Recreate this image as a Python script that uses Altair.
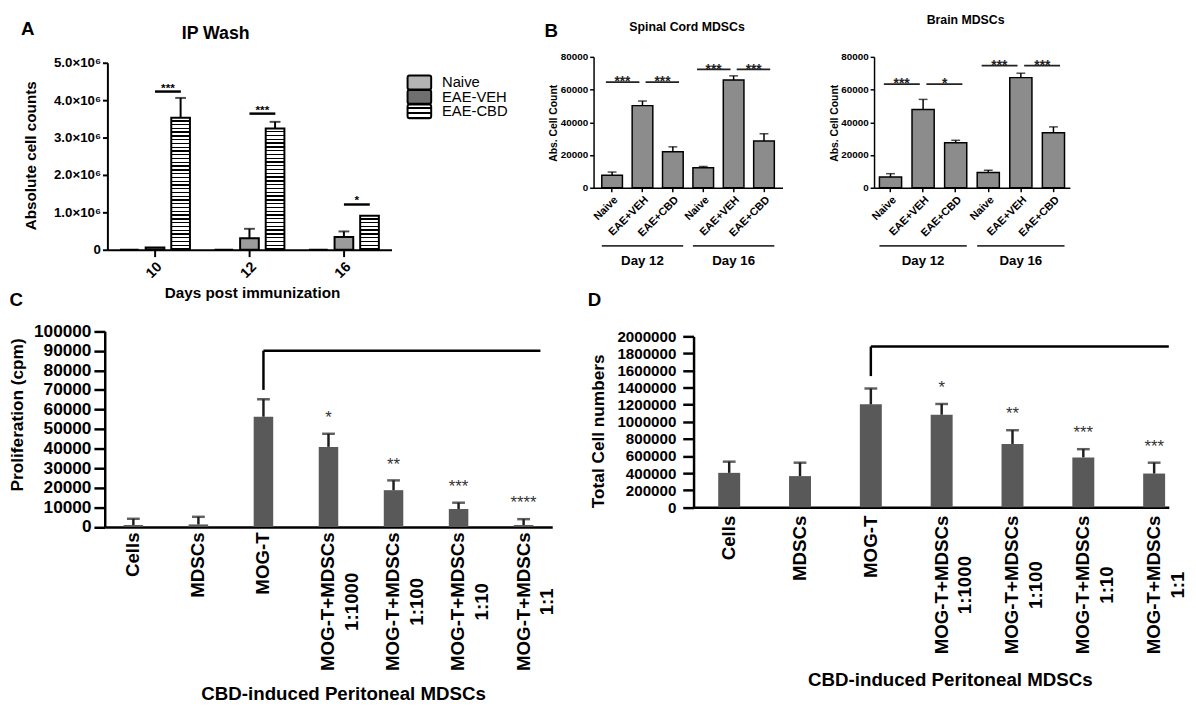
import altair as alt
import pandas as pd

FONT = "Liberation Sans"

# ---------------- Panel A : IP Wash ----------------
a_days = ["10", "12", "16"]
a_series = ["Naive", "EAE-VEH", "EAE-CBD"]
a_naive_mean = [0, 0, 0]
a_naive_err = [0, 0, 0]
a_veh_mean = [60000, 310000, 340000]
a_veh_err = [0, 250000, 150000]
a_cbd_mean = [3530000, 3240000, 910000]
a_cbd_err = [530000, 180000, 0]
a_sig_level = [4230000, 3640000, 1210000]
a_sig_text = ["***", "***", "*"]
a_yticks = [0, 1000000, 2000000, 3000000, 4000000, 5000000]

# ---------------- Panel B : Spinal cord / Brain MDSCs ----------------
b_days = ["Day 12", "Day 16"]
b_groups = ["Naive", "EAE+VEH", "EAE+CBD"]
b_sc_mean = [7600, 50200, 22000, 12200, 65800, 28600]
b_sc_err = [2000, 2800, 3000, 800, 2600, 4400]
b_sc_sig_level = [64600, 72400]
b_sc_sig_left = ["***", "***"]
b_sc_sig_right = ["***", "***"]
b_br_mean = [6600, 47800, 27500, 9300, 67300, 33600]
b_br_err = [2000, 6200, 1500, 1400, 2700, 3600]
b_br_sig_level = [63400, 74600]
b_br_sig_left = ["***", "***"]
b_br_sig_right = ["*", "***"]
b_yticks = [0, 20000, 40000, 60000, 80000]

# ---------------- Panels C / D ----------------
cd_cats = ["Cells", "MDSCs", "MOG-T", "MOG-T+MDSCs 1:1000", "MOG-T+MDSCs 1:100",
           "MOG-T+MDSCs 1:10", "MOG-T+MDSCs 1:1"]
c_mean = [1000, 1300, 56300, 40900, 18800, 9200, 1000]
c_err = [3200, 3900, 8900, 6700, 5000, 3200, 3000]
c_stars = ["", "", "", "*", "**", "***", "****"]
c_bracket = [90000, 70000]
c_yticks = list(range(0, 100001, 10000))
d_mean = [403000, 365000, 1205000, 1083000, 741000, 584000, 395000]
d_err = [131000, 157000, 185000, 126000, 161000, 96000, 127000]
d_stars = ["", "", "", "*", "**", "***", "***"]
d_bracket = [1881000, 1535000]
d_yticks = list(range(0, 2000001, 200000))
bracket_ref = "MOG-T"
cd_xtitle = "CBD-induced Peritoneal MDSCs"

# ---------------- layout (pixels of the single drawing area) ----------------
W, H = 1180, 700
OX, OY_TOP, OY_BOT = 2, 4, 16


def vx(r):
    return r - OX


def vyt(r):
    return r - OY_TOP


def vyb(r):
    return r - OY_BOT


def stripes(n, black=0.36):
    stops = []
    for k in range(n):
        a, b, c = k / n, (k + 1 - black) / n, (k + 1) / n
        stops += [{"offset": round(a, 5), "color": "white"},
                  {"offset": round(b, 5), "color": "white"},
                  {"offset": round(b, 5), "color": "black"},
                  {"offset": round(c, 5), "color": "black"}]
    return {"gradient": "linear", "x1": 0, "y1": 0, "x2": 0, "y2": 1, "stops": stops}


def note(txt, x, y, size, weight="bold", align="center"):
    return alt.Chart(pd.DataFrame({"t": [txt]})).mark_text(
        fontSize=size, fontWeight=weight, align=align, baseline="middle", color="black"
    ).encode(text="t:N", x=alt.value(x), y=alt.value(y))


# ================= Panel A =================
rows = []
for i, d in enumerate(a_days):
    for s, m, e in zip(a_series, [a_naive_mean, a_veh_mean, a_cbd_mean],
                       [a_naive_err, a_veh_err, a_cbd_err]):
        rows.append({"day": d, "series": s, "mean": m[i], "err": e[i]})
df_a = pd.DataFrame(rows)
df_asig = pd.DataFrame({"day": a_days, "level": a_sig_level, "txt": a_sig_text})
df_leg = pd.DataFrame({"series": a_series})

A_X0, A_X1, A_Y0, A_Y1 = 103, 391.7, 244, 54
xa = alt.Scale(domain=a_days, range=[vx(A_X0), vx(A_X1)], paddingInner=0.26,
               paddingOuter=0.134)
xoa = alt.Scale(domain=a_series, paddingInner=0.27, paddingOuter=0)
ya = alt.Scale(domain=[0, 5000000], range=[vyt(A_Y0), vyt(A_Y1)], nice=False)

a_fill = alt.FillValue("#b4b4b4", condition=[
    {"test": "datum.series === 'EAE-CBD' && datum.day === '10'", "value": stripes(35)},
    {"test": "datum.series === 'EAE-CBD' && datum.day === '12'", "value": stripes(32)},
    {"test": "datum.series === 'EAE-CBD'", "value": stripes(9)},
    {"test": "datum.series === 'EAE-VEH'", "value": "#9c9c9c"},
])
leg_fill = alt.FillValue("#b4b4b4", condition=[
    {"test": "datum.series === 'EAE-CBD'", "value": stripes(3)},
    {"test": "datum.series === 'EAE-VEH'", "value": "#6f6f6f"},
])

ax_a_x = alt.Axis(orient="bottom", offset=vyt(A_Y0) - H, title="Days post immunization",
                  labelAngle=315, labelFontSize=14.5, labelFontWeight="bold", labelPadding=3,
                  tickSize=7, tickWidth=2, domainWidth=2, titleFontSize=15.5,
                  titleFontWeight="bold", titleY=44, titleX=vx(250), titleBaseline="middle")
ax_a_y = alt.Axis(orient="left", offset=-vx(A_X0), values=a_yticks, title="Absolute cell counts",
                  labelExpr="datum.value == 0 ? '0' : format(datum.value / 1000000, '.1f') + '×10⁶'",
                  labelFontSize=13.5, labelFontWeight="bold", tickSize=5, tickWidth=2,
                  domainWidth=2, labelPadding=2, titleFontSize=15.5, titleFontWeight="bold",
                  titleX=25 - A_X0, titleY=vyt(148), titleBaseline="middle")


def axx(f, bp=None):
    if bp is None:
        return alt.X(f, scale=xa, axis=ax_a_x)
    return alt.X(f, scale=xa, axis=ax_a_x, bandPosition=bp)


def ayy(f):
    return alt.Y(f, scale=ya, axis=ax_a_y)


XO = alt.XOffset("series:N", scale=xoa)
a_bars = alt.Chart(df_a).mark_bar(stroke="black", strokeWidth=2).encode(
    x=axx("day:N"), xOffset=XO, y=ayy("mean:Q"), fill=a_fill)
a_errbase = alt.Chart(df_a).transform_filter("datum.err > 0").transform_calculate(
    top="datum.mean + datum.err")
a_err_rule = a_errbase.mark_rule(color="black", strokeWidth=2).encode(
    x=axx("day:N"), xOffset=XO, y=ayy("mean:Q"), y2=alt.Y2(field="top"))
a_err_cap = a_errbase.mark_tick(color="black", thickness=2, size=11, orient="horizontal").encode(
    x=axx("day:N"), xOffset=XO, y=ayy("top:Q"))
a_sig_rule = alt.Chart(df_asig).mark_rule(color="black", strokeWidth=2.5).encode(
    x=axx("day:N", 0.5), x2=alt.X2(field="day", bandPosition=0.87), y=ayy("level:Q"))
a_sig_txt = alt.Chart(df_asig).mark_text(fontSize=12, fontWeight="bold", baseline="alphabetic",
                                         dy=0, color="black").encode(
    x=axx("day:N", 0.685), y=ayy("level:Q"), text="txt:N")
main_a = alt.layer(a_bars, a_err_rule, a_err_cap, a_sig_rule, a_sig_txt,
                   note("A", vx(22), vyt(20), 19), note("IP Wash", vx(213), vyt(25), 18))

leg_y = alt.Y("series:N", scale=alt.Scale(type="point", domain=a_series,
                                          range=[vyt(66.7), vyt(110.7)]), axis=None)
leg_sym = alt.Chart(df_leg).mark_bar(height=14, stroke="black", strokeWidth=2, cornerRadius=2).encode(
    x=alt.value(vx(408)), x2=alt.value(vx(432)), y=leg_y, fill=leg_fill)
leg_txt = alt.Chart(df_leg).mark_text(align="left", baseline="middle", fontSize=15,
                                      color="black").encode(
    x=alt.value(vx(443)), y=leg_y, text="series:N")

pA = alt.layer(main_a, leg_sym, leg_txt).resolve_scale(y="independent")


# ================= Panel B =================
def make_b(title, title_xy, mean, err, lvl, left, right, x_lo, x_hi, po, let=None):
    keys = [f"{d}|{g}" for d in b_days for g in b_groups]
    df = pd.DataFrame({"key": keys, "mean": mean, "err": err})
    sig_rows = []
    for i, d in enumerate(b_days):
        sig_rows.append({"side": "L", "from": f"{d}|{b_groups[0]}", "to": f"{d}|{b_groups[1]}",
                         "level": lvl[i], "txt": left[i]})
        sig_rows.append({"side": "R", "from": f"{d}|{b_groups[1]}", "to": f"{d}|{b_groups[2]}",
                         "level": lvl[i], "txt": right[i]})
    dsig = pd.DataFrame(sig_rows)
    dgrp = pd.DataFrame({"day": b_days,
                         "first": [f"{d}|{b_groups[0]}" for d in b_days],
                         "mid": [f"{d}|{b_groups[1]}" for d in b_days],
                         "last": [f"{d}|{b_groups[2]}" for d in b_days]})
    xs = alt.Scale(domain=keys, range=[vx(x_lo), vx(x_hi)], paddingInner=0.32, paddingOuter=po)
    ys = alt.Scale(domain=[0, 80000], range=[vyt(181), vyt(48)], nice=False)
    ax_x = alt.Axis(orient="bottom", offset=vyt(181) - H, title=None,
                    labelExpr="split(datum.label, '|')[1]", labelAngle=315,
                    labelFontSize=11, labelFontWeight="bold", tickSize=4, tickWidth=1.5,
                    domainWidth=1.5, labelPadding=2)
    ax_y = alt.Axis(orient="left", offset=-vx(x_lo), values=b_yticks, format="d",
                    title="Abs. Cell Count", labelFontSize=10,
                    labelFontWeight="bold", tickSize=4, tickWidth=1.5, domainWidth=1.5,
                    labelPadding=2, titleFontSize=10.5, titleFontWeight="bold",
                    titleX=-40.5, titleY=vyt(115), titleBaseline="middle")

    def bx(f, bp=None):
        if bp is None:
            return alt.X(f, scale=xs, axis=ax_x)
        return alt.X(f, scale=xs, axis=ax_x, bandPosition=bp)

    def by(f):
        return alt.Y(f, scale=ys, axis=ax_y)

    bars = alt.Chart(df).mark_bar(fill="#8c8c8c", stroke="black", strokeWidth=1.5).encode(
        x=bx("key:N"), y=by("mean:Q"))
    eb = alt.Chart(df).transform_calculate(top="datum.mean + datum.err")
    erule = eb.mark_rule(color="black", strokeWidth=1.5).encode(
        x=bx("key:N"), y=by("mean:Q"), y2=alt.Y2(field="top"))
    ecap = eb.mark_tick(color="black", thickness=1.5, size=9, orient="horizontal").encode(
        x=bx("key:N"), y=by("top:Q"))
    sl = alt.Chart(dsig).transform_filter("datum.side === 'L'")
    sr = alt.Chart(dsig).transform_filter("datum.side === 'R'")
    sig_l = sl.mark_rule(color="#222", strokeWidth=1.8).encode(
        x=bx("from:N", 0.2), x2=alt.X2(field="to", bandPosition=0.35), y=by("level:Q"))
    sig_r = sr.mark_rule(color="#222", strokeWidth=1.8).encode(
        x=bx("from:N", 0.65), x2=alt.X2(field="to", bandPosition=0.8), y=by("level:Q"))
    st_kw = dict(fontSize=14, fontWeight="bold", baseline="alphabetic", dy=4.5, color="#222")
    txt_l = sl.mark_text(**st_kw).encode(x=bx("from:N", 1.0), y=by("level:Q"), text="txt:N")
    txt_r = sr.mark_text(**st_kw).encode(x=bx("to:N", 0.0), y=by("level:Q"), text="txt:N")
    gline = alt.Chart(dgrp).mark_rule(color="#333", strokeWidth=1.8).encode(
        x=bx("first:N", 0), x2=alt.X2(field="last", bandPosition=1), y=alt.value(vyt(240)))
    gtxt = alt.Chart(dgrp).mark_text(fontSize=13.5, fontWeight="bold", baseline="middle",
                                     color="black").encode(
        x=bx("mid:N"), y=alt.value(vyt(256)), text="day:N")
    layers = [bars, erule, ecap, sig_l, sig_r, txt_l, txt_r, gline, gtxt,
              note(title, vx(title_xy[0]), vyt(title_xy[1]), 12.5)]
    if let:
        layers.append(note(let, vx(554), vyt(22), 19))
    return alt.layer(*layers)


pBsc = make_b("Spinal Cord MDSCs", (692, 17.3), b_sc_mean, b_sc_err, b_sc_sig_level,
              b_sc_sig_left, b_sc_sig_right, 597, 789, 0.27, "B")
pBbr = make_b("Brain MDSCs", (975, 10.5), b_br_mean, b_br_err, b_br_sig_level,
              b_br_sig_left, b_br_sig_right, 882, 1081, 0.165)


# ================= Panels C / D =================
def make_cd(mean, err, stars, bracket, yticks, ytitle, x_lo, x_hi, y0, ytop, pi, po, align,
            ylab_size, ylab_pad, ytitle_x, ytitle_y, lab_pad, xtitle_x, xtitle_y, br_end,
            let, let_x):
    df = pd.DataFrame({"cat": cd_cats, "mean": mean, "err": err, "stars": stars})
    df["second"] = [c.split(" ", 1)[1] if " " in c else "" for c in cd_cats]
    dbr = pd.DataFrame({"cat": [bracket_ref], "hi": [bracket[0]], "lo": [bracket[1]]})
    xs = alt.Scale(domain=cd_cats, range=[vx(x_lo), vx(x_hi)], paddingInner=pi,
                   paddingOuter=po, align=align)
    ys = alt.Scale(domain=[yticks[0], yticks[-1]], range=[vyb(y0), vyb(ytop)], nice=False)
    ax_x = alt.Axis(orient="bottom", offset=vyb(y0) - H, title=cd_xtitle,
                    labelExpr="split(datum.label, ' ')[0]", labelAngle=270,
                    labelAlign="right", labelBaseline="middle", labelFontSize=19,
                    labelFontWeight="bold", ticks=False, domainWidth=2.5,
                    labelPadding=lab_pad, titleFontSize=19, titleFontWeight="bold",
                    titleX=vx(xtitle_x), titleY=xtitle_y - y0, titleBaseline="middle")
    ax_y = alt.Axis(orient="left", offset=-vx(x_lo), values=yticks, format="d", title=ytitle,
                    labelFontSize=ylab_size, labelFontWeight="bold", tickSize=11,
                    tickWidth=2.5, domainWidth=2.5, labelPadding=ylab_pad, labelOverlap=False,
                    titleFontSize=17.5, titleFontWeight="bold", titleX=ytitle_x - x_lo,
                    titleY=vyb(ytitle_y), titleBaseline="middle")

    def cx(f, bp=None):
        if bp is None:
            return alt.X(f, scale=xs, axis=ax_x)
        return alt.X(f, scale=xs, axis=ax_x, bandPosition=bp)

    def cy(f):
        return alt.Y(f, scale=ys, axis=ax_y)

    bars = alt.Chart(df).mark_bar(fill="#595959").encode(x=cx("cat:N"), y=cy("mean:Q"))
    eb = alt.Chart(df).transform_calculate(top="datum.mean + datum.err")
    erule = eb.mark_rule(color="#1e1e1e", strokeWidth=2.5).encode(
        x=cx("cat:N"), y=cy("mean:Q"), y2=alt.Y2(field="top"))
    ecap = eb.mark_tick(color="#1e1e1e", thickness=2.5, size=13, orient="horizontal").encode(
        x=cx("cat:N"), y=cy("top:Q"))
    stx = eb.transform_filter("datum.stars != ''").mark_text(
        fontSize=17, color="#333", baseline="alphabetic", dy=-11).encode(
        x=cx("cat:N"), y=cy("top:Q"), text="stars:N")
    line2 = alt.Chart(df).transform_filter("datum.second != ''").mark_text(
        fontSize=19, fontWeight="bold", angle=270, align="center", baseline="middle", dy=24,
        color="black").encode(
        x=cx("cat:N"), y=alt.value(vyb(y0) + lab_pad + 71), text="second:N")
    br_h = alt.Chart(dbr).mark_rule(color="black", strokeWidth=2.5).encode(
        x=cx("cat:N", 0.5), x2=alt.value(vx(br_end)), y=cy("hi:Q"))
    br_v = alt.Chart(dbr).mark_rule(color="black", strokeWidth=2.5).encode(
        x=cx("cat:N", 0.5), y=cy("lo:Q"), y2=alt.Y2(field="hi"))
    return alt.layer(bars, erule, ecap, stx, line2, br_h, br_v,
                     note(let, vx(let_x), vyb(306.7), 19))


pC = make_cd(c_mean, c_err, c_stars, c_bracket, c_yticks, "Proliferation (cpm)",
             100.3, 555, 537.7, 338.7, 0.7, 0.29, 0.5, 17.5, 3, 11.5, 423.3, 5,
             342.5, 706.7, 543, "C", 10.5)
pD = make_cd(d_mean, d_err, d_stars, d_bracket, d_yticks, "Total Cell numbers",
             698.6, 1181.5, 517.7, 344, 0.69, 0.2, 0.87, 15.4, 7, 601.7, 440, 8,
             959, 693, 1181.5, "D", 598)

chart = alt.layer(pA, pBsc, pBbr, pC, pD).resolve_scale(
    x="independent", y="independent"
).properties(width=W, height=H, padding=0).configure_view(stroke=None).configure_axis(
    grid=False, domainColor="black", tickColor="black", labelColor="black",
    titleColor="black", labelFont=FONT, titleFont=FONT
).configure_text(font=FONT)

chart.save("out.html", embed_options={"renderer": "svg", "actions": False})
